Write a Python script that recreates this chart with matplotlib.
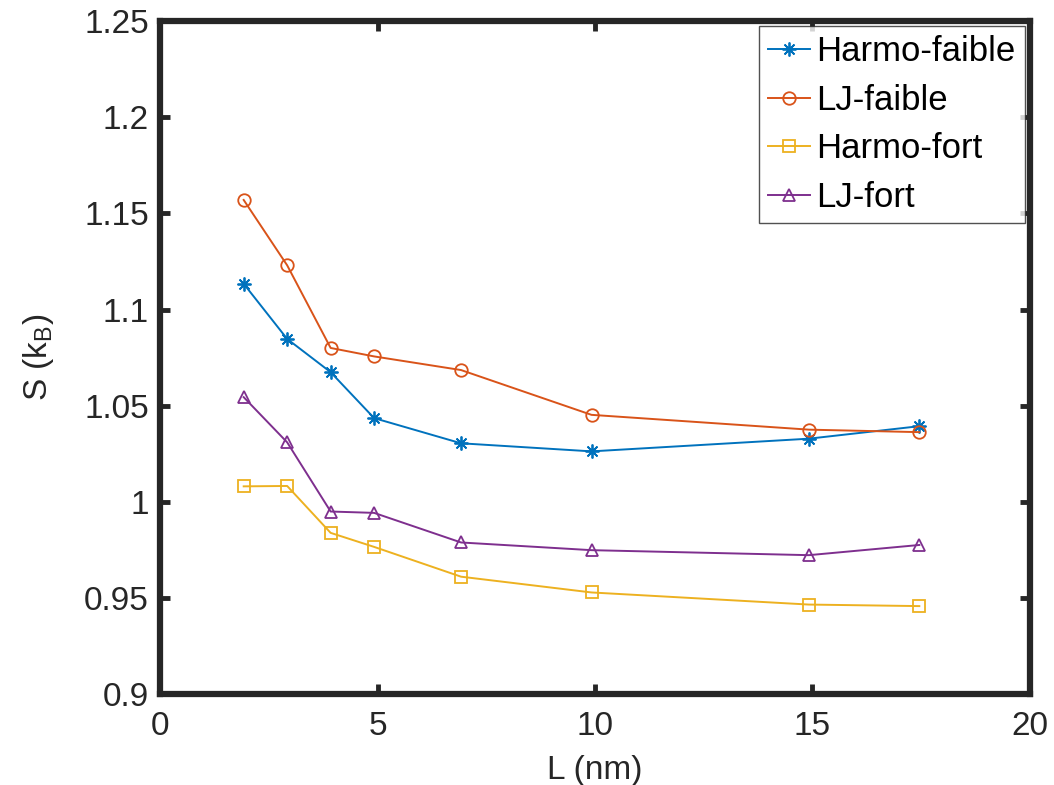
import matplotlib
matplotlib.use("Agg")
import matplotlib.pyplot as plt

plt.rcParams['font.family'] = ['Liberation Sans', 'DejaVu Sans']
plt.rcParams['mathtext.fontset'] = 'custom'
plt.rcParams['mathtext.rm'] = 'Liberation Sans'

L = [1.92, 2.92, 3.92, 4.92, 6.92, 9.92, 14.92, 17.46]
harmo_faible = [1.1134, 1.0847, 1.0674, 1.0435, 1.0304, 1.0262, 1.0328, 1.0393]
lj_faible = [1.1570, 1.1230, 1.0800, 1.0756, 1.0685, 1.0452, 1.0375, 1.0362]
harmo_fort = [1.0080, 1.0082, 0.9838, 0.9765, 0.9610, 0.9528, 0.9465, 0.9457]
lj_fort = [1.0544, 1.0309, 0.9949, 0.9942, 0.9788, 0.9748, 0.9722, 0.9775]

series = [
    ("Harmo-faible", harmo_faible, '#0072BD', (8, 2, 0), 10),
    ("LJ-faible", lj_faible, '#D95319', 'o', 9),
    ("Harmo-fort", harmo_fort, '#EDB120', 's', 9),
    ("LJ-fort", lj_fort, '#7E2F8E', '^', 9),
]

fig = plt.figure(figsize=(10.54, 7.85), dpi=100)
ax = fig.add_axes([0.152, 0.116, 0.825, 0.857])

for name, vals, col, mk, ms in series:
    ax.plot(L, vals, color=col, marker=mk, markersize=ms,
            markerfacecolor='none', markeredgecolor=col, markeredgewidth=1.3,
            linewidth=1.4, label=name)

ax.set_xlim(0, 20)
ax.set_ylim(0.9, 1.25)
ax.set_xticks([0, 5, 10, 15, 20])
ax.set_yticks([0.9, 0.95, 1.0, 1.05, 1.1, 1.15, 1.2, 1.25])
ax.set_yticklabels(['0.9', '0.95', '1', '1.05', '1.1', '1.15', '1.2', '1.25'])
ax.tick_params(direction='in', length=7, width=3.5, labelsize=24, colors='#262626',
               top=True, right=True)
ax.tick_params(axis='x', pad=12)
ax.tick_params(axis='y', pad=8)
for s in ax.spines.values():
    s.set_linewidth(4.5)
    s.set_color('#262626')

ax.set_xlabel('L (nm)', fontsize=24, color='#262626', labelpad=10)
ax.set_ylabel(r'S (k$_\mathregular{B}$)', fontsize=24, color='#262626', labelpad=20)

leg = ax.legend(loc='upper right', fontsize=25, frameon=True, fancybox=False,
                edgecolor='#262626', handlelength=1.2, handletextpad=0.2,
                borderpad=0.25, labelspacing=0.45, borderaxespad=0.15)
leg.get_frame().set_linewidth(1.0)

fig.savefig('out.png', dpi=100)
